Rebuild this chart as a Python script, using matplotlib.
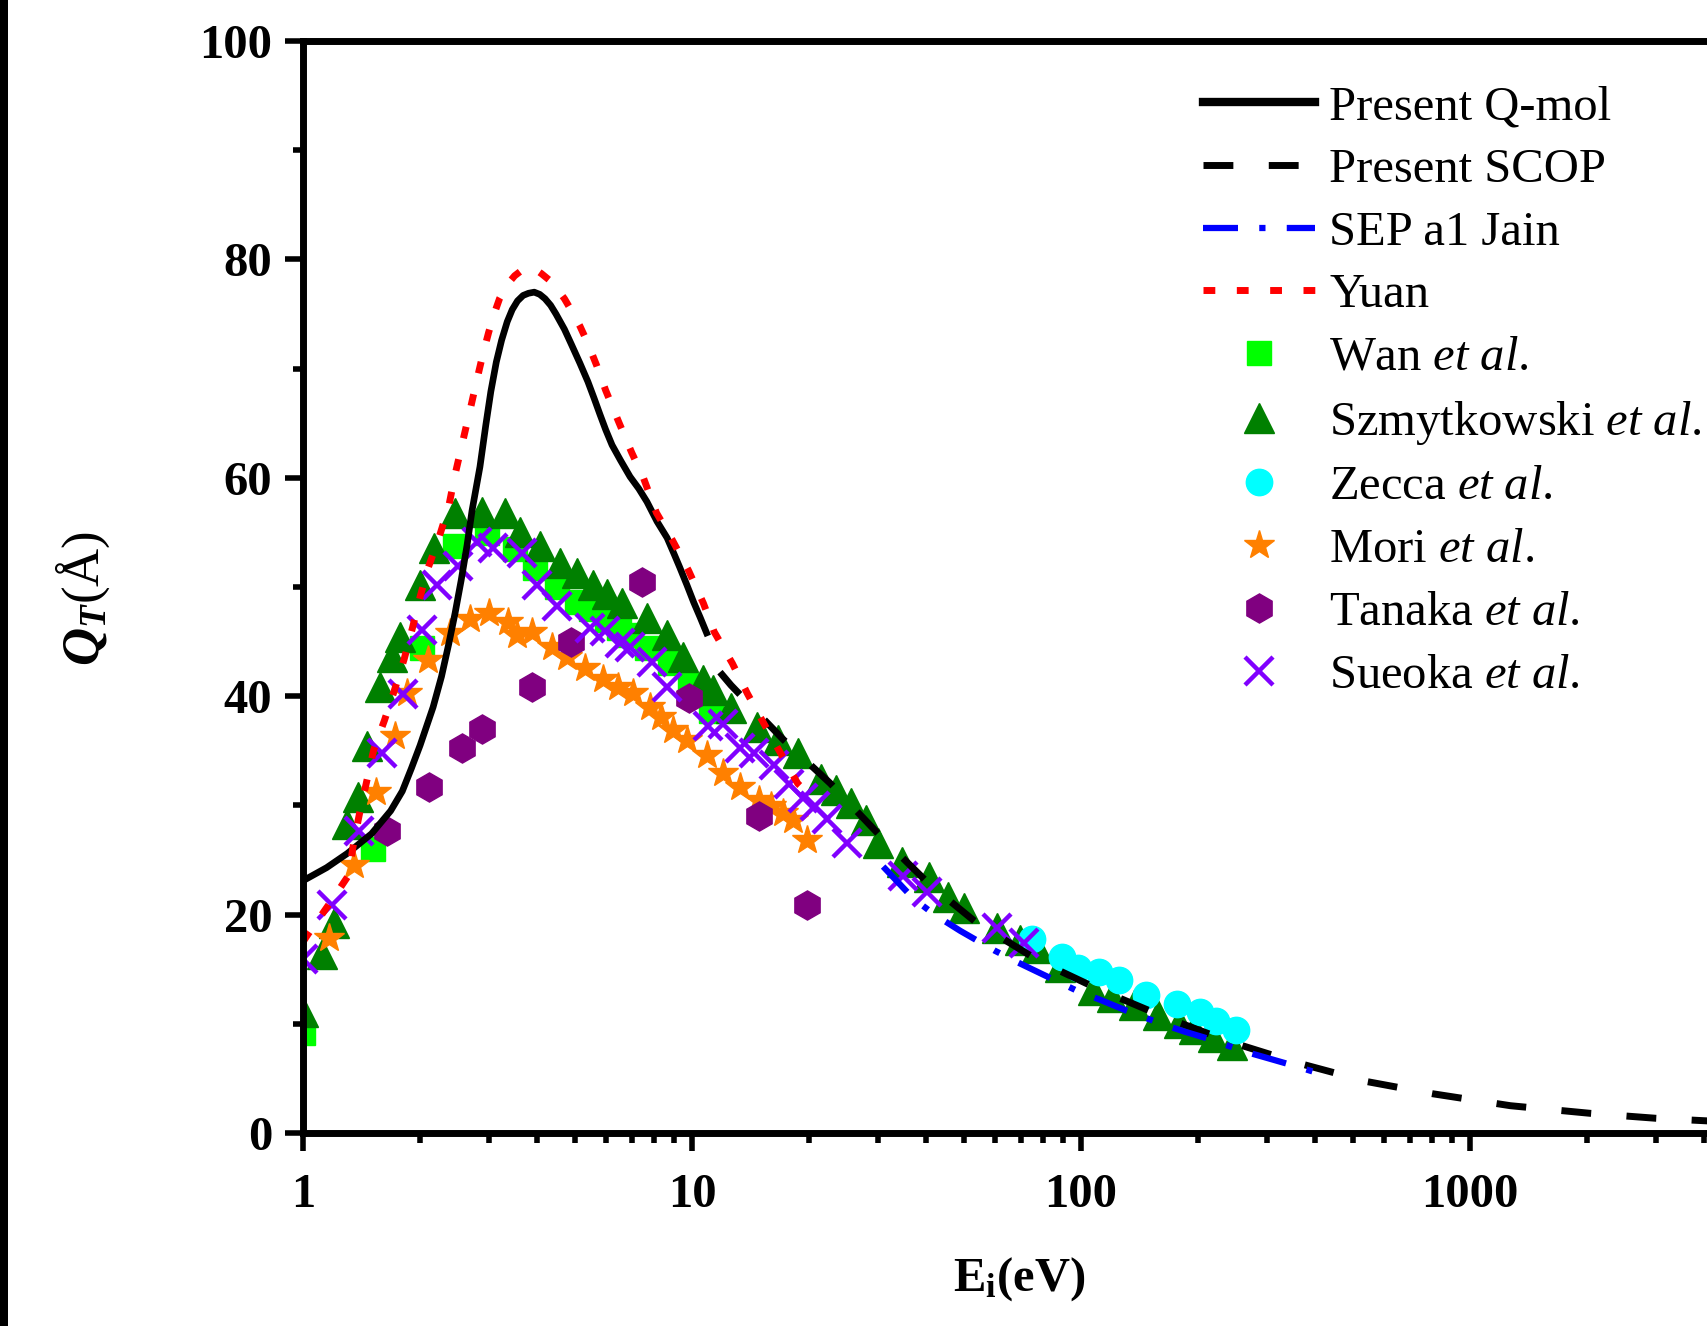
import matplotlib
matplotlib.use("Agg")
import matplotlib.pyplot as plt
import numpy as np
from matplotlib.patches import Rectangle
from matplotlib.ticker import FixedLocator, FixedFormatter, LogLocator, NullFormatter, MultipleLocator

plt.rcParams['font.family'] = ['Liberation Serif', 'DejaVu Serif']
plt.rcParams['mathtext.fontset'] = 'custom'
plt.rcParams['mathtext.rm'] = 'Liberation Serif'
plt.rcParams['mathtext.it'] = 'Liberation Serif:italic'
plt.rcParams['mathtext.bf'] = 'Liberation Serif:bold'
plt.rcParams['mathtext.bfit'] = 'Liberation Serif:italic:bold'

# ---------------- data ----------------
qmol_E = [1.0, 1.15, 1.3, 1.5, 1.68, 1.8, 1.9, 2.0, 2.16, 2.27, 2.37, 2.46, 2.55, 2.64, 2.72,
          2.85, 2.95, 3.04, 3.14, 3.24, 3.35, 3.45, 3.56, 3.68, 3.8, 3.93, 4.06, 4.19, 4.33,
          4.47, 4.7, 4.9, 5.15, 5.4, 5.6, 5.8, 6.0, 6.23, 6.55, 6.93, 7.3, 7.66, 8.13, 8.63,
          9.0, 9.3, 9.7, 10.1, 10.5, 10.9]
qmol_Q = [23.1, 24.3, 25.6, 27.4, 29.5, 31.3, 33.4, 35.5, 39.0, 41.8, 44.8, 47.6, 50.6, 53.8,
          57.0, 61.0, 64.8, 67.9, 70.6, 72.6, 74.3, 75.4, 76.2, 76.7, 76.9, 77.0, 76.8, 76.4,
          75.8, 75.0, 73.6, 72.2, 70.5, 68.8, 67.3, 65.8, 64.4, 63.0, 61.6, 60.1, 59.0, 57.8,
          56.0, 54.5, 53.0, 51.8, 50.2, 48.6, 47.2, 45.8]

scop_E = [11.8, 12.6, 17.2, 22.7, 30.3, 40.7, 53.7, 78.5, 112, 167, 244, 362, 545, 800,
          1270, 2040, 3000, 5000]
scop_Q = [42.2, 41.0, 36.0, 32.0, 27.3, 22.8, 19.3, 15.7, 13.1, 10.5, 8.3, 6.4, 4.7, 3.6,
          2.5, 1.8, 1.35, 0.95]

sep_E = [31, 37, 42, 49, 60, 69, 80, 98, 112, 131, 161, 184, 214, 261, 299, 350, 397]
sep_Q = [24.4, 21.5, 20.0, 18.5, 16.7, 15.6, 14.5, 13.0, 12.2, 11.2, 10.0, 9.3, 8.6, 7.5,
         6.9, 6.2, 5.6]

yuan_E = [1.0, 1.03, 1.18, 1.31, 1.35, 1.4, 1.46, 1.52, 1.62, 1.72, 1.82, 1.91, 2.0, 2.1,
          2.24, 2.37, 2.46, 2.6, 2.7, 2.8, 2.9, 3.0, 3.1, 3.2, 3.35, 3.5, 3.65, 3.8, 3.95,
          4.1, 4.3, 4.5, 4.7, 4.9, 5.15, 5.4, 5.7, 6.0, 6.5, 7.0, 7.5, 8.1, 8.9, 9.8, 10.7,
          11.4, 12.7, 13.9, 15.3, 18.7, 20.0]
yuan_Q = [17.5, 18.2, 21.2, 23.6, 26.6, 29.4, 32.3, 35.1, 37.8, 40.6, 43.4, 46.2, 49.1, 51.8,
          54.6, 57.4, 60.3, 64.0, 66.5, 69.0, 71.3, 73.3, 75.0, 76.4, 77.7, 78.5, 79.0, 79.2,
          79.1, 78.7, 78.1, 77.3, 76.4, 75.3, 73.9, 72.3, 70.2, 68.0, 65.0, 62.3, 60.0, 56.8,
          54.3, 51.5, 48.5, 45.9, 43.0, 40.2, 37.5, 32.0, 31.0]

wan_E = [1.0, 1.51, 2.02, 2.46, 2.97, 3.5, 3.95, 4.5, 5.06, 5.5, 6.05, 6.5, 6.9, 7.65, 8.8,
         9.9, 11.2]
wan_Q = [9.2, 26.0, 44.4, 53.8, 54.9, 53.5, 51.7, 50.0, 48.6, 48.0, 47.0, 46.2, 45.6, 44.4,
         43.0, 41.0, 38.6]

szm_E = [1.0, 1.12, 1.2, 1.3, 1.385, 1.46, 1.58, 1.69, 1.78, 2.0, 2.17, 2.46, 2.88, 3.3, 3.61,
         4.07, 4.58, 5.06, 5.57, 6.05, 6.61, 7.67, 8.63, 9.48, 10.7, 11.3, 12.6, 14.7, 16.6,
         18.7, 21.5, 23.5, 25.7, 28.0, 30.0, 34.6, 40.6, 45.4, 50.0, 60.9, 69.8, 77.2, 88.3,
         107.5, 120, 136.6, 157.9, 179, 195, 218, 245]
szm_Q = [11.1, 16.4, 19.2, 28.3, 30.8, 35.4, 40.8, 43.6, 45.4, 50.2, 53.6, 56.8, 56.9, 56.8,
         55.0, 53.8, 52.2, 51.3, 50.2, 49.4, 48.5, 47.2, 45.6, 43.6, 41.5, 40.6, 38.9, 37.2,
         36.0, 34.8, 32.4, 31.4, 30.2, 28.7, 26.6, 24.8, 23.4, 21.6, 20.6, 18.8, 17.7, 16.9,
         15.2, 13.1, 12.5, 11.7, 10.8, 10.1, 9.5, 8.8, 8.1]

zec_E = [75, 89.6, 98.5, 111, 125, 147, 176, 202, 223, 251]
zec_Q = [17.8, 16.1, 15.1, 14.7, 14.0, 12.6, 11.8, 11.1, 10.3, 9.4]

mori_E = [1.166, 1.35, 1.54, 1.72, 1.85, 2.09, 2.39, 2.69, 3.01, 3.37, 3.55, 3.88, 4.37, 4.77,
          5.3, 5.9, 6.45, 7.05, 7.8, 8.3, 8.95, 9.7, 10.9, 12.0, 13.3, 14.9, 16.0, 17.1, 18.2,
          19.8]
mori_Q = [17.9, 24.5, 31.2, 36.4, 40.3, 43.3, 45.8, 47.1, 47.6, 46.8, 45.6, 45.9, 44.5, 43.6,
          42.6, 41.6, 40.8, 40.3, 39.0, 38.1, 36.9, 36.0, 34.6, 33.0, 31.7, 30.5, 29.9, 29.3,
          28.7, 26.8]

tan_E = [1.64, 2.11, 2.56, 2.88, 3.88, 4.88, 7.42, 9.8, 14.9, 19.8]
tan_Q = [27.7, 31.7, 35.3, 37.0, 40.8, 45.0, 50.5, 39.8, 29.0, 20.9]

sue_E = [1.0, 1.19, 1.39, 1.6, 1.81, 2.02, 2.21, 2.5, 2.8, 3.08, 3.66, 3.99, 4.5, 5.47, 5.98,
         6.53, 6.93, 7.9, 8.6, 11.0, 12.0, 13.3, 14.4, 16.2, 17.8, 19.3, 20.7, 22.2, 25.0,
         34.8, 40.1, 60.9, 71.3]
sue_Q = [15.9, 20.9, 27.7, 34.8, 40.2, 46.1, 50.2, 51.9, 54.1, 53.6, 53.1, 50.2, 48.3, 46.2,
         46.0, 44.9, 44.5, 43.1, 40.8, 37.3, 37.5, 35.3, 34.8, 33.7, 32.0, 30.7, 29.9, 28.8,
         26.6, 23.5, 22.1, 18.8, 17.4]

x_ticks = [1, 10, 100, 1000]
x_ticklabels = ["1", "10", "100", "1000"]
y_ticks = [0, 20, 40, 60, 80, 100]
y_ticklabels = ["0", "20", "40", "60", "80", "100"]

# ---------------- figure ----------------
W, H = 1707, 1326
fig = plt.figure(figsize=(W / 100, H / 100), dpi=100)
x0, xr = 303, 389.0
ax_left = x0 / W
ax_bottom = (H - 1133) / H
ax_h = (1133 - 41) / H
ax_w = (np.log10(5000) * xr) / W
ax = fig.add_axes([ax_left, ax_bottom, ax_w, ax_h])

fig.patches.append(Rectangle((0, 0), 8 / W, 1, transform=fig.transFigure,
                             facecolor='black', edgecolor='none'))

ms_kw = dict(linestyle='none')
h_wan, = ax.plot(wan_E, wan_Q, marker='s', ms=17, color='#00FF00', mec='#00FF00', zorder=2.00, **ms_kw)
h_szm, = ax.plot(szm_E, szm_Q, marker='^', ms=21, color='#008000', mec='#008000', zorder=2.02, **ms_kw)
h_zec, = ax.plot(zec_E, zec_Q, marker='o', ms=19, color='#00FFFF', mec='#00FFFF', zorder=2.04, **ms_kw)
h_mori, = ax.plot(mori_E, mori_Q, marker='*', ms=22, color='#FF8000', mec='#FF8000', zorder=2.06, **ms_kw)
h_tan, = ax.plot(tan_E, tan_Q, marker='h', ms=21, color='#800080', mec='#800080', zorder=2.08, **ms_kw)
h_sue, = ax.plot(sue_E, sue_Q, marker='x', ms=20, mew=3.2, color='#8000FF', zorder=2.10, **ms_kw)

h_qmol, = ax.plot(qmol_E, qmol_Q, color='black', lw=4.8, zorder=2.3, solid_joinstyle='round')
h_scop, = ax.plot(scop_E, scop_Q, color='black', lw=5, dashes=(4.3, 5.1), zorder=2.32)
h_sep, = ax.plot(sep_E, sep_Q, color='#0000FF', lw=4.5, dashes=(5.6, 3.4, 1.0, 3.4), zorder=2.34)
h_yuan, = ax.plot(yuan_E, yuan_Q, color='#FF0000', lw=5, dashes=(1.7, 3.1), zorder=2.36)

ax.set_xscale('log')
ax.set_xlim(1, 5000)
ax.set_ylim(0, 100)

ax.xaxis.set_major_locator(FixedLocator(x_ticks))
ax.xaxis.set_major_formatter(FixedFormatter(x_ticklabels))
ax.xaxis.set_minor_locator(LogLocator(base=10, subs=np.arange(2, 10)))
ax.xaxis.set_minor_formatter(NullFormatter())
ax.yaxis.set_major_locator(FixedLocator(y_ticks))
ax.yaxis.set_major_formatter(FixedFormatter(y_ticklabels))
ax.yaxis.set_minor_locator(MultipleLocator(10))

for s in ['left', 'bottom', 'top', 'right']:
    ax.spines[s].set_linewidth(5)
ax.tick_params(which='major', direction='out', length=13, width=4, labelsize=35, pad=9,
               top=False, right=False)
ax.tick_params(axis='x', which='major', pad=16)
ax.tick_params(which='minor', direction='out', length=7, width=4, top=False, right=False)
for lab in ax.get_xticklabels() + ax.get_yticklabels():
    lab.set_fontweight('bold')

ax.set_xlabel(r'E$_{\mathbf{i}}$(eV)', fontsize=35, fontweight='bold')
ax.xaxis.set_label_coords(0.498, -0.112)
ax.set_ylabel(r'$\mathbfit{Q}_{\mathbfit{T}}$(Å)', fontsize=38)
ax.yaxis.set_label_coords(-0.133, 0.49)

handles = [h_qmol, h_scop, h_sep, h_yuan, h_wan, h_szm, h_zec, h_mori, h_tan, h_sue]
labels = ['Present Q-mol', 'Present SCOP', 'SEP a1 Jain', 'Yuan',
          r'Wan $\mathit{et\ al.}$', r'Szmytkowski $\mathit{et\ al.}$',
          r'Zecca $\mathit{et\ al.}$', r'Mori $\mathit{et\ al.}$',
          r'Tanaka $\mathit{et\ al.}$', r'Sueoka $\mathit{et\ al.}$']
leg = ax.legend(handles, labels, loc='upper left', bbox_to_anchor=(1203 / W, (H - 85) / H),
                bbox_transform=fig.transFigure, frameon=False, fontsize=35,
                handlelength=2.3, handletextpad=0.3, labelspacing=0.385, borderpad=0,
                borderaxespad=0, numpoints=1)
leg.get_lines()[0].set_linewidth(6)

fig.savefig('out.png', dpi=100)
